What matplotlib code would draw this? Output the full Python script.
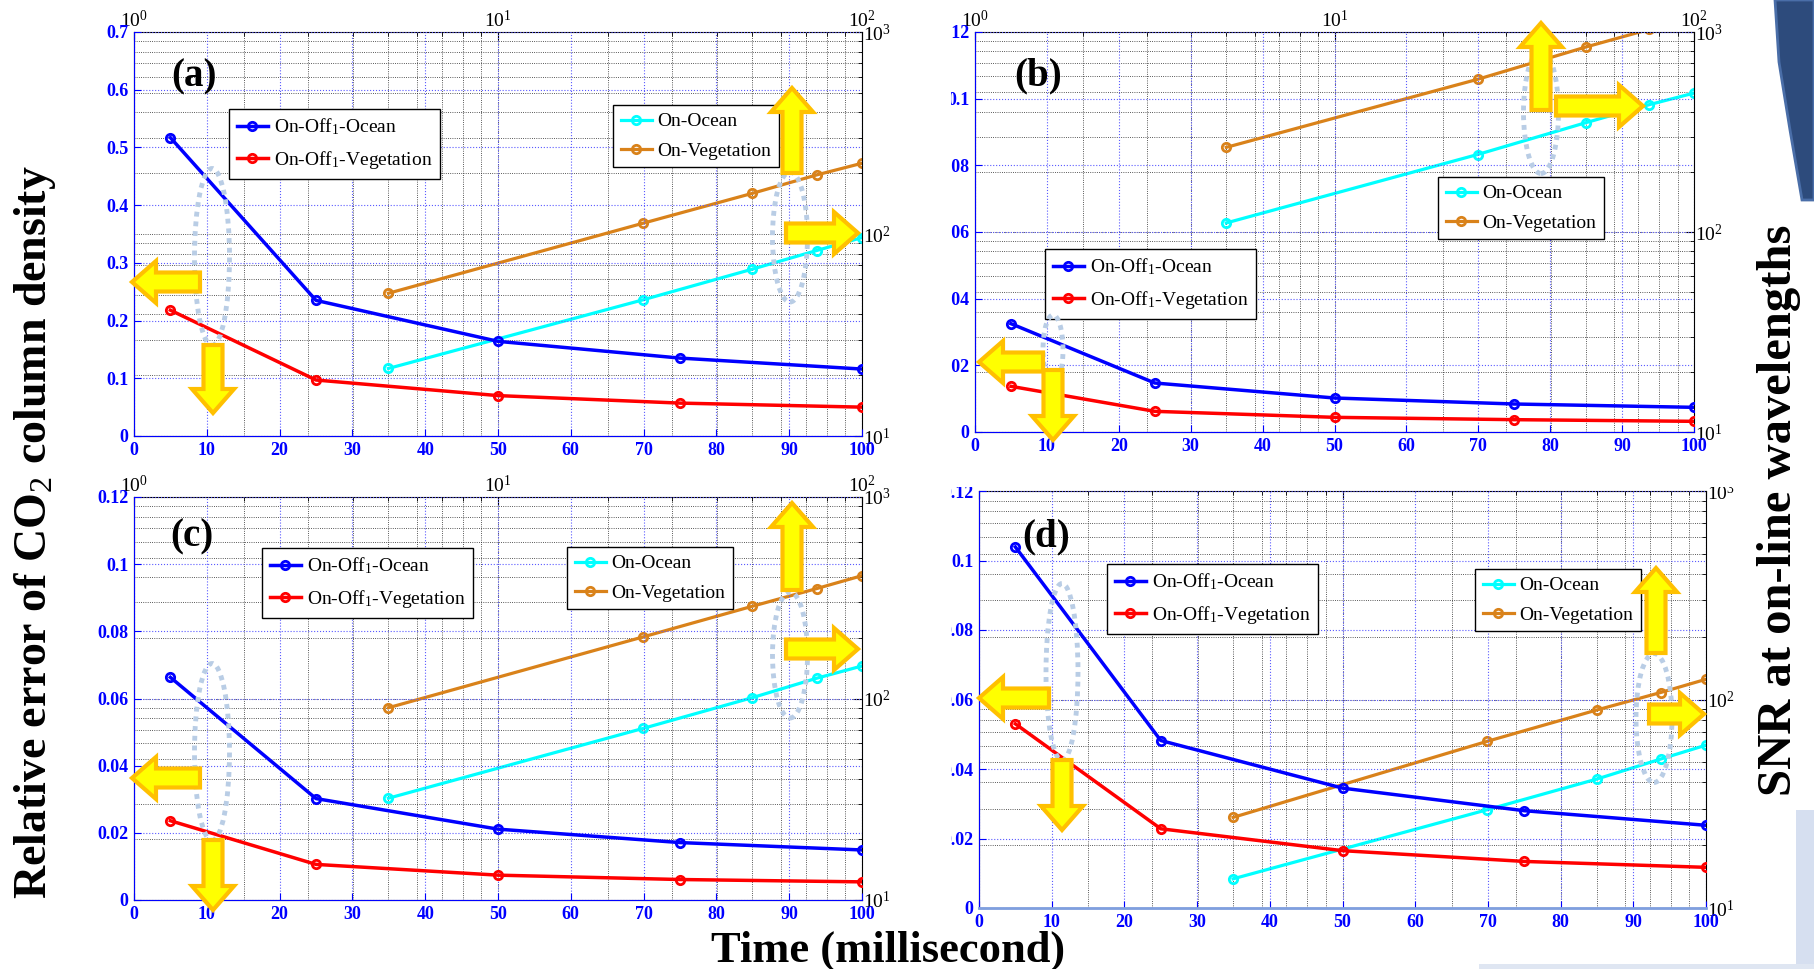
import matplotlib
matplotlib.use("Agg")
import matplotlib.pyplot as plt
import matplotlib.ticker as mticker
from matplotlib.patches import FancyArrow, Ellipse, Rectangle, Polygon
from matplotlib.transforms import IdentityTransform

plt.rcParams["font.family"] = ["Liberation Serif", "DejaVu Serif"]
plt.rcParams["mathtext.fontset"] = "custom"
plt.rcParams["mathtext.rm"] = "Liberation Serif"
plt.rcParams["mathtext.it"] = "Liberation Serif:italic"
plt.rcParams["mathtext.bf"] = "Liberation Serif:bold"

# time (ms) of the five points
t = [5, 25, 50, 75, 100]

# relative error (left axis), SNR (right log axis)
err_ocean_a = [0.517, 0.235, 0.164, 0.135, 0.116]
err_veg_a = [0.218, 0.097, 0.070, 0.057, 0.050]
snr_ocean_a = [21.6, 47.2, 67, 82.8, 96]
snr_veg_a = [50.9, 113, 159, 196, 224]

err_ocean_b = [0.0325, 0.0147, 0.0102, 0.0084, 0.0074]
err_veg_b = [0.0137, 0.0062, 0.0044, 0.0037, 0.0032]
snr_ocean_b = [111, 244, 352, 433, 495]
snr_veg_b = [265, 580, 841, 1030, 1190]

err_ocean_c = [0.0663, 0.0302, 0.0211, 0.0171, 0.0149]
err_veg_c = [0.0236, 0.0106, 0.0074, 0.0061, 0.0054]
snr_ocean_c = [32, 71, 101, 126, 145]
snr_veg_c = [90, 202, 287, 351, 407]

err_ocean_d = [0.1039, 0.0482, 0.0345, 0.028, 0.0238]
err_veg_d = [0.053, 0.0228, 0.0165, 0.0134, 0.0117]
snr_ocean_d = [13.8, 29.6, 41.5, 51.8, 60.4]
snr_veg_d = [27.2, 63, 89, 108, 125]

yticks_a = [0, 0.1, 0.2, 0.3, 0.4, 0.5, 0.6, 0.7]
ylabels_a = ["0", "0.1", "0.2", "0.3", "0.4", "0.5", "0.6", "0.7"]
yticks_small = [0, 0.02, 0.04, 0.06, 0.08, 0.1, 0.12]
ylabels_small = ["0", "0.02", "0.04", "0.06", "0.08", "0.1", "0.12"]

names = ["On-Off$_1$-Ocean", "On-Off$_1$-Vegetation", "On-Ocean", "On-Vegetation"]

W, H = 1814, 969
fig = plt.figure(figsize=(W / 100, H / 100), dpi=100)


def box(l, r, top, b):
    return [l / W, 1 - b / H, (r - l) / W, (b - top) / H]


def fpos(x, y):
    return (x / W, 1 - y / H)


def panel(rect, ymax, yticks, ylabels, e_oc, e_veg, s_oc, s_veg, letter, lxy, leg1, leg2):
    ax2 = fig.add_axes(rect, zorder=0)
    ax = fig.add_axes(rect, zorder=1)
    ax.patch.set_visible(False)

    # log axes: SNR vs time
    ax2.set_xscale("log")
    ax2.set_yscale("log")
    ax2.set_xlim(1, 100)
    ax2.set_ylim(10, 1000)
    ax2.grid(which="both", color="#222222", ls=":", lw=0.6)
    ax2.xaxis.set_minor_formatter(mticker.NullFormatter())
    ax2.yaxis.set_minor_formatter(mticker.NullFormatter())
    ax2.tick_params(which="both", direction="in", top=True, right=True, bottom=False, left=False,
                    labeltop=True, labelright=True, labelbottom=False, labelleft=False,
                    labelsize=14, pad=1, colors="k")
    ax2.tick_params(which="major", length=6)
    ax2.tick_params(which="minor", length=3)
    l3, = ax2.plot(t, s_oc, color="#00ffff", marker="o", ms=6, mfc="none", mew=2, lw=2.3)
    l4, = ax2.plot(t, s_veg, color="#d9821a", marker="o", ms=6, mfc="none", mew=2, lw=2.3)

    # linear axes: relative error vs time
    ax.set_xlim(0, 100)
    ax.set_ylim(0, ymax)
    ax.set_xticks(range(0, 101, 10))
    ax.set_yticks(yticks)
    ax.set_yticklabels(ylabels)
    ax.grid(color="#5a5aff", ls=":", lw=0.8)
    ax.tick_params(direction="in", colors="#0000ff", labelsize=13, length=5, pad=4)
    for lab in ax.get_xticklabels() + ax.get_yticklabels():
        lab.set_fontweight("bold")
    ax.spines["top"].set_visible(False)
    ax.spines["right"].set_visible(False)
    ax.spines["left"].set_color("#0000ff")
    ax.spines["bottom"].set_color("#0000ff")
    l1, = ax.plot(t, e_oc, color="#0000ff", marker="o", ms=6, mfc="none", mew=2, lw=2.5)
    l2, = ax.plot(t, e_veg, color="#ff0000", marker="o", ms=6, mfc="none", mew=2, lw=2.5)

    kw = dict(loc="upper left", bbox_transform=fig.transFigure, fontsize=14, fancybox=False,
              edgecolor="k", framealpha=1, handlelength=1.6, handletextpad=0.3,
              borderpad=0.4, labelspacing=0.6, borderaxespad=0)
    lg1 = ax.legend([l1, l2], names[:2], bbox_to_anchor=fpos(*leg1), **kw)
    lg1.get_frame().set_linewidth(1)
    ax.add_artist(lg1)
    lg2 = ax.legend([l3, l4], names[2:], bbox_to_anchor=fpos(*leg2), **kw)
    lg2.get_frame().set_linewidth(1)

    fig.text(*fpos(*lxy), letter, ha="center", va="center", fontsize=28, fontweight="bold")
    return ax, ax2


ax_a, _ = panel(box(134, 862, 32, 436), 0.7, yticks_a, ylabels_a,
                err_ocean_a, err_veg_a, snr_ocean_a, snr_veg_a, "(a)", (194, 77), (229, 109), (613, 105))
ax_b, _ = panel(box(975, 1694, 32, 432), 0.12, yticks_small, ylabels_small,
                err_ocean_b, err_veg_b, snr_ocean_b, snr_veg_b, "(b)", (1038, 76), (1045, 249), (1438, 177))
ax_c, _ = panel(box(134, 862, 497, 900), 0.12, yticks_small, ylabels_small,
                err_ocean_c, err_veg_c, snr_ocean_c, snr_veg_c, "(c)", (192, 537), (262, 548), (567, 547))
ax_d, _ = panel(box(979, 1706, 491, 908), 0.12, yticks_small, ylabels_small,
                err_ocean_d, err_veg_d, snr_ocean_d, snr_veg_d, "(d)", (1046, 537), (1107, 564), (1475, 569))
ax_d.spines["bottom"].set_color("#7f9fdf")
ax_d.spines["bottom"].set_linewidth(2)

# pieces of the slide around the figure (cropping / background)
for x0, y0, x1, y1, c in [(895, 15, 951, 462, "white"), (895, 468, 951, 935, "white"),
                          (940, 458, 1745, 487, "white"),
                          (1796, 810, 1814, 969, "#d6dff0"), (1479, 964, 1814, 969, "#dfe6f2")]:
    fig.add_artist(Rectangle((x0, H - y1), x1 - x0, y1 - y0, fc=c, ec="none",
                             transform=IdentityTransform(), zorder=2))
fig.add_artist(Polygon([(1775, H), (1814, H), (1814, H - 200), (1802, H - 200), (1790, H - 130),
                        (1779, H - 62)], closed=True, fc="#2d4b7c", ec="#4a6ea8", lw=2,
                       transform=IdentityTransform(), zorder=2))

# dotted ellipses and the fat arrows pointing to the axes
ellipses = [(212, 257, 35, 177), (790, 237, 35, 130), (1053, 350, 20, 70), (1541, 112, 35, 123),
            (212, 752, 35, 177), (790, 655, 35, 126), (1062, 672, 32, 177), (1654, 718, 36, 129)]
for cx, cy, w, h in ellipses:
    fig.add_artist(Ellipse((cx, H - cy), w, h, fill=False, ec="#b9cde5", lw=3.5, ls=(0, (1, 1)),
                           transform=IdentityTransform(), zorder=3))

arrows = [(200, 282, 132, 282), (213, 345, 213, 413), (792, 173, 792, 88), (786, 233, 858, 233),
          (1043, 362, 979, 362), (1053, 370, 1053, 440), (1541, 110, 1541, 23), (1556, 106, 1643, 106),
          (200, 778, 132, 778), (213, 840, 213, 910), (792, 590, 792, 503), (786, 649, 858, 649),
          (1049, 698, 979, 698), (1062, 760, 1062, 830), (1656, 653, 1656, 568), (1649, 714, 1704, 714)]
for x0, y0, x1, y1 in arrows:
    fig.add_artist(FancyArrow(x0, H - y0, x1 - x0, y0 - y1, width=19, head_width=42, head_length=24,
                              length_includes_head=True, fc="#ffff00", ec="#ffc000", lw=3,
                              transform=IdentityTransform(), zorder=4))

fig.text(*fpos(35, 532), "Relative error of CO$_2$ column density", rotation=90, ha="center",
         va="center", fontsize=33, fontweight="bold")
fig.text(*fpos(1779, 510), "SNR at on-line wavelengths", rotation=90, ha="center",
         va="center", fontsize=35, fontweight="bold")
fig.text(*fpos(888, 962), "Time (millisecond)", ha="center", va="baseline",
         fontsize=32, fontweight="bold")

fig.savefig("out.png", dpi=100)
